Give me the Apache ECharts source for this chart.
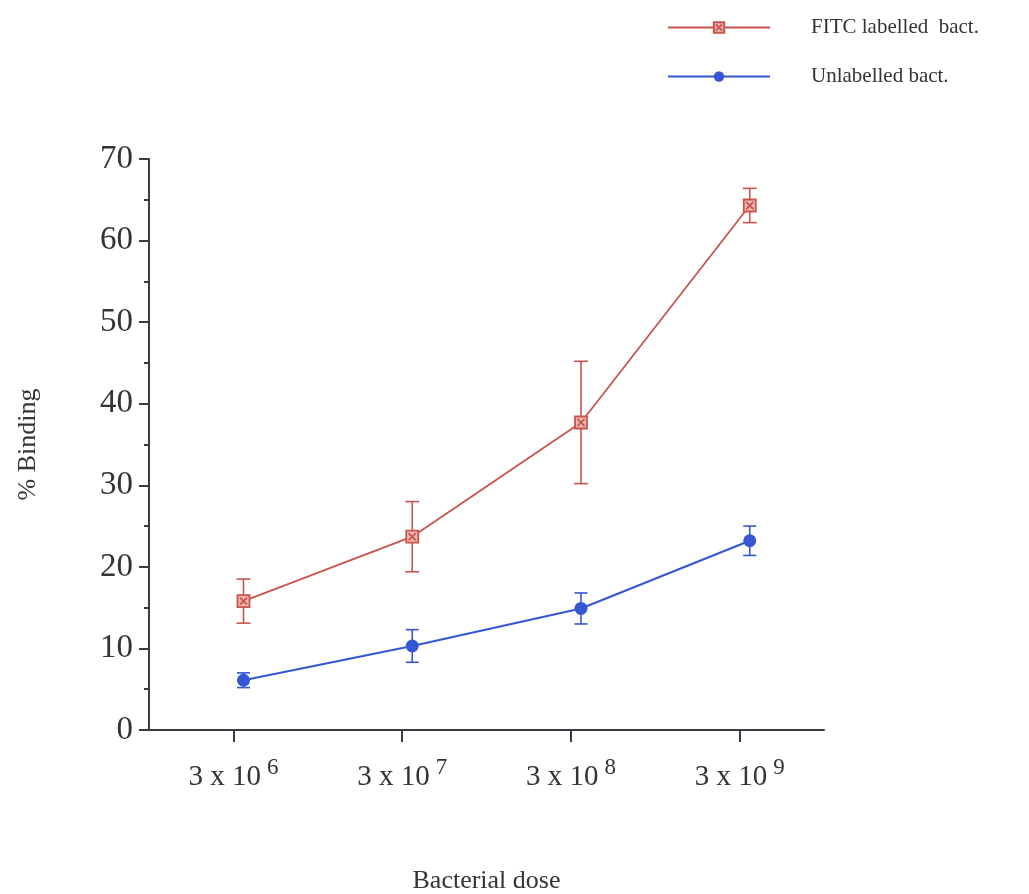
<!DOCTYPE html>
<html>
<head>
<meta charset="utf-8">
<title>% Binding vs bacterial dose</title>
<script src="https://cdn.jsdelivr.net/npm/echarts@6/dist/echarts.min.js"></script>
<style>
  html, body { margin: 0; padding: 0; background: #ffffff; overflow: hidden; }
  #chart { width: 1029px; height: 894px; }
</style>
</head>
<body>
<div id="chart"></div>
<script>
// Bacterial dose categories (3 x 10^n)
const doseExponents = ['6', '7', '8', '9'];
const seriesNames = ['FITC labelled  bact.', 'Unlabelled bact.'];

// Mean % binding and error (± half-range) for each dose
const fitcMean = [15.8, 23.7, 37.7, 64.3];
const fitcErr = [2.7, 4.3, 7.5, 2.1];
const unlabelledMean = [6.1, 10.3, 14.9, 23.2];
const unlabelledErr = [0.9, 2.0, 1.9, 1.8];

// Y axis ticks
const yMin = 0, yMax = 70, yStep = 10;

const RED = '#c9544c';
const BLUE = '#3657d4';
const AXIS = '#3b3a42';
const TEXT = '#333338';
const SERIF = '"Liberation Serif", "DejaVu Serif", serif';

// Points sit slightly to the right of each dose tick
const pointShift = 0.06;

function pointData(means) {
  return means.map((v, i) => [i + pointShift, v]);
}
function errorData(means, errs) {
  return means.map((v, i) => [i + pointShift, v - errs[i], v + errs[i]]);
}

function errorBars(capHalf) {
  return function (params, api) {
    const x = api.value(0);
    const lo = api.coord([x, api.value(1)]);
    const hi = api.coord([x, api.value(2)]);
    const style = { stroke: api.visual('color'), lineWidth: 1.6, fill: null };
    return {
      type: 'group',
      children: [
        { type: 'line', shape: { x1: lo[0], y1: lo[1], x2: hi[0], y2: hi[1] }, style },
        { type: 'line', shape: { x1: hi[0] - capHalf, y1: hi[1], x2: hi[0] + capHalf, y2: hi[1] }, style },
        { type: 'line', shape: { x1: lo[0] - capHalf, y1: lo[1], x2: lo[0] + capHalf, y2: lo[1] }, style }
      ]
    };
  };
}

// Square marker with a cross inside
const crossSquare = 'path://M0,0L10,0L10,10L0,10ZM2,2L8,8M8,2L2,8';

const chart = echarts.init(document.getElementById('chart'), null, { renderer: 'canvas', width: 1029, height: 894 });

chart.setOption({
  backgroundColor: '#ffffff',
  animation: false,
  textStyle: { fontFamily: SERIF },
  grid: { left: 149, width: 675, top: 159, height: 571, containLabel: false, outerBoundsMode: 'none' },
  legend: {
    orient: 'vertical',
    left: 662,
    top: 12,
    itemWidth: 102,
    itemHeight: 13,
    itemGap: 28,
    data: seriesNames,
    textStyle: { fontFamily: SERIF, fontSize: 21, color: TEXT, padding: [0, 0, 0, 36] }
  },
  xAxis: [
    {
      type: 'category',
      data: doseExponents,
      boundaryGap: true,
      name: 'Bacterial dose',
      nameLocation: 'middle',
      nameGap: 138,
      nameTextStyle: { fontFamily: SERIF, fontSize: 26, color: TEXT },
      axisLine: { show: true, onZero: false, lineStyle: { color: AXIS, width: 2 } },
      axisTick: { show: true, alignWithLabel: true, length: 12, lineStyle: { color: AXIS, width: 2 } },
      splitLine: { show: false },
      axisLabel: {
        margin: 26,
        formatter: function (e) { return '{b|3 x 10}{s|' + e + '}'; },
        rich: {
          b: { fontFamily: SERIF, fontSize: 29, color: TEXT, verticalAlign: 'bottom', lineHeight: 36 },
          s: { fontFamily: SERIF, fontSize: 23, color: TEXT, verticalAlign: 'top', padding: [0, 0, 14, 6], lineHeight: 36 }
        }
      }
    },
    {
      type: 'value',
      min: -0.5,
      max: 3.5,
      show: false
    }
  ],
  yAxis: {
    type: 'value',
    min: yMin,
    max: yMax,
    interval: yStep,
    name: '% Binding',
    nameLocation: 'middle',
    nameGap: 108,
    nameRotate: 90,
    nameTextStyle: { fontFamily: SERIF, fontSize: 26, color: TEXT },
    axisLine: { show: true, onZero: false, lineStyle: { color: AXIS, width: 2 } },
    axisTick: { show: true, length: 10, lineStyle: { color: AXIS, width: 2 } },
    minorTick: { show: true, splitNumber: 2, length: 5, lineStyle: { color: AXIS, width: 2 } },
    splitLine: { show: false },
    axisLabel: { margin: 16, fontFamily: SERIF, fontSize: 33, color: TEXT }
  },
  series: [
    {
      name: seriesNames[0],
      type: 'line',
      xAxisIndex: 1,
      data: pointData(fitcMean),
      symbol: crossSquare,
      symbolSize: 12,
      lineStyle: { color: RED, width: 1.8 },
      itemStyle: { color: '#efb9b2', borderColor: RED, borderWidth: 1.8 },
      z: 3
    },
    {
      name: seriesNames[0] + ' error',
      type: 'custom',
      xAxisIndex: 1,
      data: errorData(fitcMean, fitcErr),
      renderItem: errorBars(7),
      itemStyle: { color: RED },
      z: 2
    },
    {
      name: seriesNames[1],
      type: 'line',
      xAxisIndex: 1,
      data: pointData(unlabelledMean),
      symbol: 'circle',
      symbolSize: 13,
      lineStyle: { color: BLUE, width: 2.2 },
      itemStyle: { color: BLUE, borderColor: BLUE, borderWidth: 0 },
      z: 3
    },
    {
      name: seriesNames[1] + ' error',
      type: 'custom',
      xAxisIndex: 1,
      data: errorData(unlabelledMean, unlabelledErr),
      renderItem: errorBars(6.5),
      itemStyle: { color: BLUE },
      z: 2
    }
  ]
});
</script>
</body>
</html>
